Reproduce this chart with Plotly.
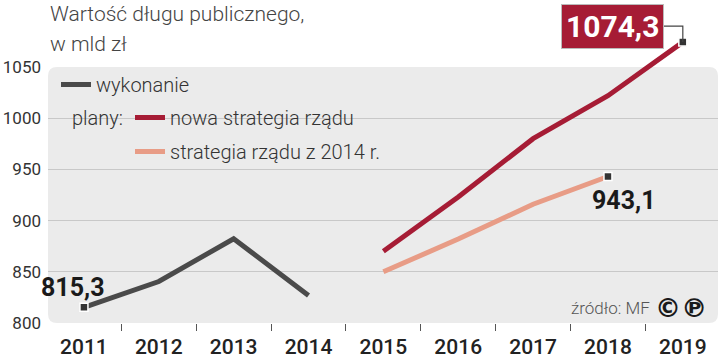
import plotly.graph_objects as go

# ---- data ----
years_actual = [2011, 2012, 2013, 2014]
debt_actual = [815.3, 840.5, 882.3, 826.8]
years_new = [2015, 2016, 2017, 2018, 2019]
debt_new = [870.0, 923.0, 980.0, 1022.0, 1074.3]
years_2014 = [2015, 2016, 2017, 2018]
debt_2014 = [850.0, 882.0, 916.0, 943.1]
x_ticks = [2011, 2012, 2013, 2014, 2015, 2016, 2017, 2018, 2019]
x_ticktext = [str(y) for y in x_ticks]
y_ticks = [800, 850, 900, 950, 1000, 1050]
label_actual = "815,3"
label_new = "1074,3"
label_2014 = "943,1"

C_GRAY = "#4a4a4a"
C_RED = "#a61c35"
C_SALMON = "#e89c86"
PANEL = "#ebebeb"
BASE = "Roboto, 'Liberation Sans', sans-serif"
NUMF = "Roboto, 'Liberation Sans', sans-serif"

# layout geometry (pixels)
TOP, BOTTOM, LEFT, PW = 5, 323, 48, 670
PH = BOTTOM - TOP


def py(p):  # pixel row -> paper y
    return (BOTTOM - p) / PH


def px(p):  # pixel column -> paper x
    return (p - LEFT) / PW


fig = go.Figure()
fig.add_trace(go.Scatter(x=years_actual, y=debt_actual, mode="lines", name="wykonanie",
                         line=dict(color=C_GRAY, width=5), legend="legend", legendgroup="a"))
fig.add_trace(go.Scatter(x=years_new, y=debt_new, mode="lines", name="nowa strategia rządu",
                         line=dict(color=C_RED, width=5), legend="legend2", legendgroup="b"))
fig.add_trace(go.Scatter(x=years_2014, y=debt_2014, mode="lines", name="strategia rządu z 2014 r.",
                         line=dict(color=C_SALMON, width=5), legend="legend2", legendgroup="c"))
# end markers
mk = dict(symbol="square", size=8, color="#333333", line=dict(color="white", width=1.5))
for xs, ys in [([years_actual[0]], [debt_actual[0]]),
               ([years_2014[-1]], [debt_2014[-1]]),
               ([years_new[-1]], [debt_new[-1]])]:
    fig.add_trace(go.Scatter(x=xs, y=ys, mode="markers", marker=mk, showlegend=False,
                             hoverinfo="skip"))

annotations = [
    dict(text="Wartość długu publicznego,", xref="paper", yref="paper", x=0, y=py(14),
         xanchor="left", yanchor="middle", showarrow=False,
         font=dict(family=BASE, size=21, color="#444", weight=300)),
    dict(text="w mld zł", xref="paper", yref="paper", x=0, y=py(44),
         xanchor="left", yanchor="middle", showarrow=False,
         font=dict(family=BASE, size=21, color="#444", weight=300)),
    dict(text="plany:", xref="paper", yref="paper", x=px(70), y=py(118),
         xanchor="left", yanchor="middle", showarrow=False,
         font=dict(family=BASE, size=20, color="#333", weight=300)),
    dict(text=label_actual, x=years_actual[0], y=debt_actual[0], showarrow=False,
         xanchor="center", yanchor="bottom", xshift=-11, yshift=3,
         font=dict(family=NUMF, size=25, color="#1a1a1a", weight="bold")),
    dict(text=label_2014, x=years_2014[-1], y=debt_2014[-1], showarrow=False,
         xanchor="center", yanchor="top", xshift=16, yshift=-8,
         font=dict(family=NUMF, size=25, color="#1a1a1a", weight="bold")),
    dict(text=label_new, x=years_new[-1], y=debt_new[-1], showarrow=False,
         xanchor="right", yanchor="middle", xshift=-19, yshift=16,
         bgcolor=C_RED, bordercolor="#bbbbbb", borderwidth=1, borderpad=4,
         font=dict(family=NUMF, size=30, color="white", weight="bold")),
    dict(text="źródło: MF", xref="paper", yref="paper", x=px(652), y=py(308),
         xanchor="right", yanchor="middle", showarrow=False,
         font=dict(family=BASE, size=17, color="#555", weight=300)),
    dict(text="©℗", xref="paper", yref="paper", x=px(653), y=py(308),
         xanchor="left", yanchor="middle", showarrow=False,
         font=dict(family="'DejaVu Sans', sans-serif", size=26, color="#1a1a1a", weight="bold")),
]

W, H, r = 670, 256, 9
panel_path = (f"M {r},0 L {W - r},0 Q {W},0 {W},{r} L {W},{H - r} Q {W},{H} {W - r},{H} "
              f"L {r},{H} Q 0,{H} 0,{H - r} L 0,{r} Q 0,0 {r},0 Z")
shapes = [
    dict(type="path", layer="below", xref="paper", yref="y", xsizemode="pixel", ysizemode="pixel",
         xanchor=0, yanchor=800, path=panel_path, fillcolor=PANEL, line=dict(width=0)),
    # mask for the 1000 gridline behind the legend
    dict(type="rect", layer="between", xref="paper", yref="y", ysizemode="pixel", yanchor=1000,
         x0=px(55), x1=px(373), y0=-5, y1=5,
         fillcolor=PANEL, line=dict(width=0)),
    dict(type="path", layer="above", xref="x", yref="y", xsizemode="pixel", ysizemode="pixel",
         xanchor=years_new[-1], yanchor=debt_new[-1], path="M 0,0 L 0,16 L -22,16",
         line=dict(color="#444", width=1.2)),
]

ymax = 800 + PH / (256 / 250)

fig.update_layout(
    width=720, height=360,
    margin=dict(l=LEFT, r=720 - LEFT - PW, t=TOP, b=360 - BOTTOM),
    paper_bgcolor="white", plot_bgcolor="rgba(0,0,0,0)",
    annotations=annotations, shapes=shapes,
    legend=dict(x=px(56), y=py(65), xanchor="left", yanchor="top",
                bgcolor="rgba(0,0,0,0)", font=dict(family=BASE, size=20, color="#333", weight=300),
                tracegroupgap=5),
    legend2=dict(x=px(130), y=py(98), xanchor="left", yanchor="top",
                 bgcolor="rgba(0,0,0,0)", font=dict(family=BASE, size=20, color="#333", weight=300),
                 tracegroupgap=5),
    xaxis=dict(range=[2010.52, 2019.47], tickvals=x_ticks, ticktext=x_ticktext,
               showgrid=False, zeroline=False, showline=False, ticks="",
               tickfont=dict(family=BASE, size=21, color="#222", weight=500),
               ticklabelstandoff=9,
               minor=dict(tickvals=[y + 0.5 for y in x_ticks[:-1]], ticks="outside",
                          ticklen=7, tickcolor="#555", tickwidth=1, showgrid=False)),
    yaxis=dict(range=[800, ymax], tickvals=y_ticks, showgrid=False, zeroline=False,
               showline=False, ticks="", ticklabelstandoff=6,
               tickfont=dict(family=BASE, size=17, color="#333"),
               minor=dict(tickvals=y_ticks[1:-1], showgrid=True, gridcolor="#c8c8c8",
                          gridwidth=1, ticks="")),
    showlegend=True,
)

fig.write_html("out.html", config={"displayModeBar": False},
               post_script="document.body.style.margin='0';")
